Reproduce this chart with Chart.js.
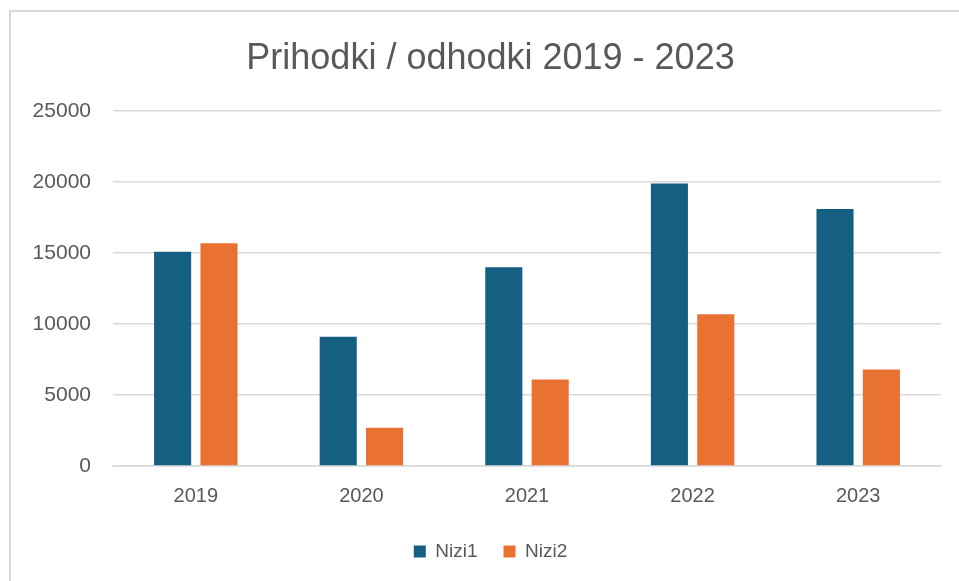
<!DOCTYPE html>
<html>
<head>
<meta charset="utf-8">
<script src="https://cdn.jsdelivr.net/npm/chart.js@4/dist/chart.umd.min.js"></script>
<style>
  html, body { margin: 0; padding: 0; background: #fff; overflow: hidden; }
  #frame { position: absolute; left: 9px; top: 10px; width: 1000px; height: 1000px; border: 2px solid #d9d9d9; box-sizing: border-box; }
  #chart { position: absolute; left: 0; top: 0; }
</style>
</head>
<body>
<div id="frame"></div>
<canvas id="chart" width="959" height="581"></canvas>
<script>
// data
const years = ["2019", "2020", "2021", "2022", "2023"];
const nizi1 = [15100, 9100, 14000, 19900, 18100];
const nizi2 = [15700, 2700, 6100, 10700, 6800];

const textColor = '#595959';
const fontName = "'Liberation Sans', Arial, sans-serif";

const barCanvas = document.getElementById("chart");

let barData = {
    labels: years,
    datasets: [{
        label: 'Nizi1',
        data: nizi1,
        backgroundColor: '#156082',
        barPercentage: 0.8,
        categoryPercentage: 0.56
    }, {
        label: 'Nizi2',
        data: nizi2,
        backgroundColor: '#E97132',
        barPercentage: 0.8,
        categoryPercentage: 0.56
    }]
};

// title and legend sit centred on the frame, not on the whole canvas
const shiftBlocks = {
    id: 'shiftBlocks',
    afterLayout(chart) {
        if (chart.titleBlock) chart.titleBlock.left += 40;
        if (chart.legend) chart.legend.left += 40;
    }
};

let barOptions = {
    responsive: false,
    animation: false,
    layout: {
        padding: { left: 0, right: 18, top: 0, bottom: 10 }
    },
    scales: {
        x: {
            grid: { display: false },
            border: { color: '#d9d9d9', width: 1.5 },
            afterFit: (scale) => { scale.height = scale.height - 2; },
            ticks: { color: textColor, font: { family: fontName, size: 20 }, padding: 10 }
        },
        y: {
            min: 0,
            max: 25000,
            afterFit: (scale) => { scale.width = 113; },
            grid: { color: '#d9d9d9', lineWidth: 1.5, drawTicks: false },
            border: { display: false },
            ticks: {
                stepSize: 5000,
                color: textColor,
                font: { family: fontName, size: 21 },
                padding: 22,
                callback: (value) => String(value)
            }
        }
    },
    plugins: {
        title: {
            display: true,
            text: 'Prihodki / odhodki 2019 - 2023',
            color: textColor,
            font: { family: fontName, size: 36, weight: 'normal' },
            padding: { top: 37, bottom: 31 }
        },
        legend: {
            position: 'bottom',
            labels: {
                color: textColor,
                font: { family: fontName, size: 19 },
                boxWidth: 12,
                boxHeight: 12,
                padding: 26
            }
        },
        tooltip: { enabled: false }
    }
};

let barChart = new Chart(barCanvas, {
    type: 'bar',
    data: barData,
    options: barOptions,
    plugins: [shiftBlocks]
});
</script>
</body>
</html>
